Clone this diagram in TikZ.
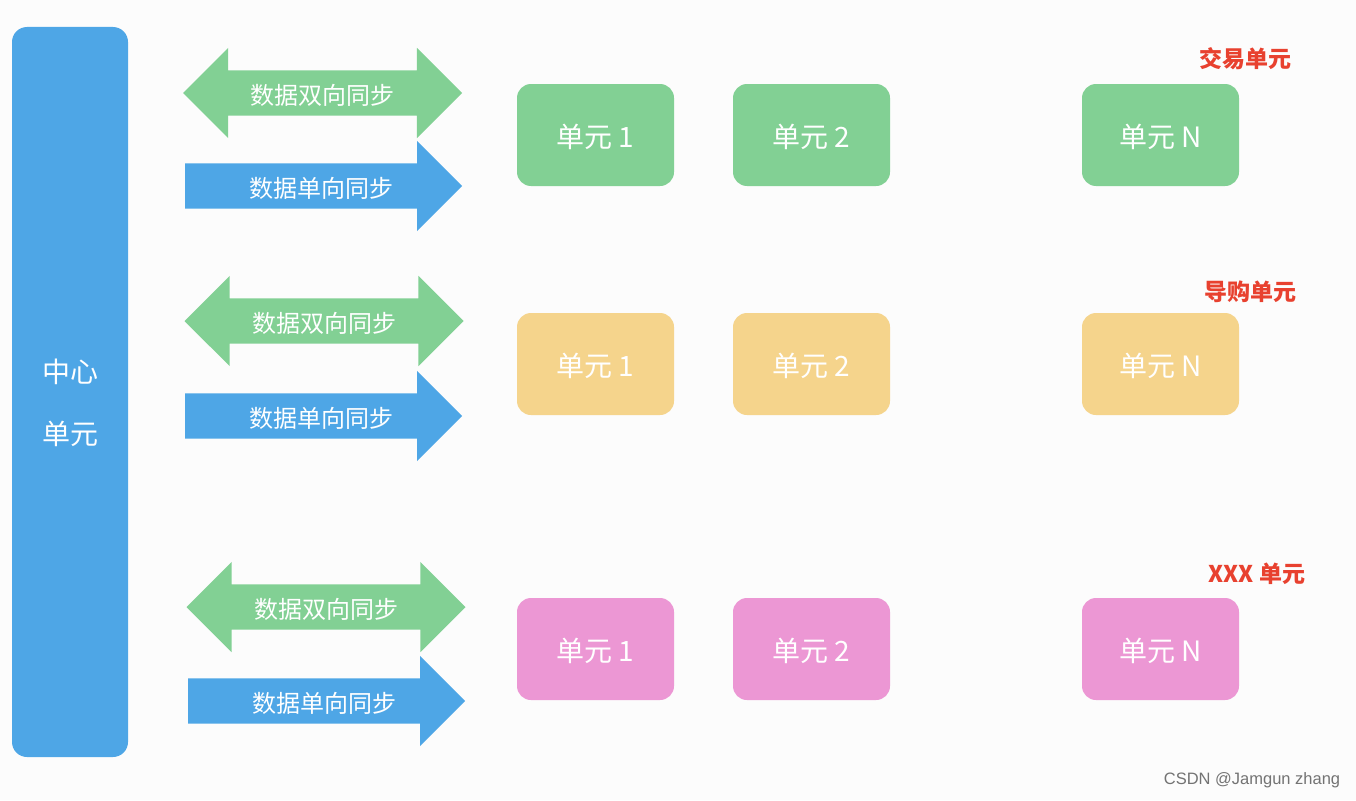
\documentclass[tikz,border=0pt]{standalone}
\usepackage{fontspec}
\setmainfont{Noto Sans CJK SC}
\newfontfamily\creditfont{Liberation Sans}
\usepackage{tikz}
\usetikzlibrary{shapes.arrows}

\definecolor{syncgreen}{RGB}{130,208,148}
\definecolor{syncblue}{RGB}{78,166,230}
\definecolor{unitorange}{RGB}{245,212,140}
\definecolor{unitpink}{RGB}{236,151,212}
\definecolor{labelred}{RGB}{232,65,47}
\definecolor{paper}{RGB}{252,252,252}

\newcommand{\onewaytext}{\hspace*{18pt}数据单向同步}

\begin{document}
\begin{tikzpicture}[
  x=1pt, y=-1pt,
  unitbox/.style={rounded corners=14pt, minimum width=157pt, minimum height=102pt, text=white, text height=24pt, text depth=0pt, font=\fontsize{28}{32}\selectfont},
  twoway/.style={double arrow, fill=syncgreen, text=white, font=\fontsize{24}{26}\selectfont, text height=23pt, text depth=0pt, inner ysep=11pt, double arrow head extend=22.5pt, minimum height=279pt},
  oneway/.style={single arrow, fill=syncblue, text=white, font=\fontsize{24}{26}\selectfont, text height=23pt, text depth=0pt, inner ysep=11pt, single arrow head extend=22.5pt, minimum height=277pt, anchor=tail},
  grouplabel/.style={text=labelred, font=\fontsize{23}{26}\selectfont\bfseries}
]
\fill[paper] (0,0) rectangle (1356,800);
\useasboundingbox (0,0) rectangle (1356,800);

% center unit
\node[fill=syncblue, rounded corners=15pt, minimum width=116pt, minimum height=730pt] (center) at (70,392) {};
\node[text=white, align=center, font=\fontsize{28}{62}\selectfont] (centertext) at (70,403) {中心\\单元};

% trade units
\node[twoway] (twoA) at (322.5,93) {数据双向同步};
\node[oneway] (oneA) at (185,186) {\onewaytext};
\node[unitbox, fill=syncgreen] (tradeA) at (595.5,135) {单元 1};
\node[unitbox, fill=syncgreen] (tradeB) at (811.5,135) {单元 2};
\node[unitbox, fill=syncgreen] (tradeN) at (1160.5,135) {单元 N};
\node[grouplabel] (tradelabel) at (1245,59) {交易单元};

% guide units
\node[twoway] (twoB) at (324,321) {数据双向同步};
\node[oneway] (oneB) at (185,416) {\onewaytext};
\node[unitbox, fill=unitorange] (guideA) at (595.5,364) {单元 1};
\node[unitbox, fill=unitorange] (guideB) at (811.5,364) {单元 2};
\node[unitbox, fill=unitorange] (guideN) at (1160.5,364) {单元 N};
\node[grouplabel] (guidelabel) at (1250,292) {导购单元};

% xxx units
\node[twoway] (twoC) at (326,607) {数据双向同步};
\node[oneway] (oneC) at (188,701) {\onewaytext};
\node[unitbox, fill=unitpink] (xxxA) at (595.5,649) {单元 1};
\node[unitbox, fill=unitpink] (xxxB) at (811.5,649) {单元 2};
\node[unitbox, fill=unitpink] (xxxN) at (1160.5,649) {单元 N};
\node[grouplabel] (xxxlabel) at (1257,574) {XXX 单元};

\node[text=black!55, font=\creditfont\fontsize{16.5}{19}\selectfont] (credit) at (1252,780) {CSDN @Jamgun zhang};
\end{tikzpicture}
\end{document}
